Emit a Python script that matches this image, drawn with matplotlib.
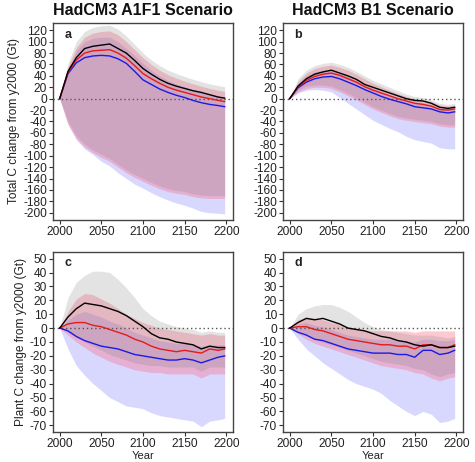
import numpy as np
import matplotlib
matplotlib.use("Agg")
import matplotlib.pyplot as plt

plt.rcParams['font.family'] = ['Liberation Sans', 'DejaVu Sans']
plt.rcParams['axes.unicode_minus'] = False

years = [2000, 2010, 2020, 2030, 2040, 2050, 2060, 2070, 2080, 2090, 2100,
         2110, 2120, 2130, 2140, 2150, 2160, 2170, 2180, 2190, 2198]

# ---- Panel a: Total C, A1F1 ----
a_black = [0, 48, 72, 88, 92, 94, 96, 88, 80, 67, 53, 43, 34, 27, 22, 18, 14, 11, 7, 3, 1]
a_red   = [0, 46, 68, 80, 84, 85, 86, 80, 71, 58, 44, 35, 27, 20, 15, 11, 7, 3, 0, -3, -5]
a_blue  = [0, 44, 63, 72, 75, 76, 75, 70, 62, 48, 33, 25, 17, 11, 6, 2, -3, -7, -10, -12, -14]
a_grey_hi = [0, 62, 100, 118, 125, 128, 129, 122, 110, 95, 80, 68, 58, 50, 44, 39, 34, 30, 26, 23, 21]
a_grey_lo = [0, -40, -65, -80, -90, -98, -105, -115, -125, -133, -140, -147, -153, -158, -161, -163, -167, -169, -170, -170, -170]
a_red_hi  = [0, 56, 90, 108, 115, 118, 119, 112, 100, 86, 72, 60, 50, 42, 36, 31, 26, 22, 18, 15, 13]
a_red_lo  = [0, -45, -70, -85, -95, -103, -110, -120, -130, -138, -145, -152, -158, -163, -166, -168, -172, -174, -175, -175, -175]
a_blue_hi = [0, 50, 84, 100, 106, 108, 108, 100, 88, 76, 62, 50, 40, 32, 26, 21, 16, 12, 8, 5, 3]
a_blue_lo = [0, -45, -72, -88, -98, -110, -118, -130, -140, -150, -157, -165, -172, -178, -183, -187, -192, -198, -200, -201, -202]

# ---- Panel b: Total C, B1 ----
b_black = [0, 22, 35, 43, 47, 50, 45, 40, 34, 25, 20, 15, 10, 5, 0, -3, -4, -8, -15, -17, -15]
b_red   = [0, 20, 32, 39, 43, 45, 41, 35, 29, 21, 15, 10, 5, 0, -4, -8, -10, -13, -19, -20, -18]
b_blue  = [0, 19, 29, 35, 38, 39, 35, 29, 23, 16, 10, 4, -1, -5, -9, -14, -16, -18, -23, -25, -23]
b_grey_hi = [0, 35, 50, 58, 62, 64, 60, 55, 48, 40, 32, 26, 20, 14, 8, 4, 2, -2, -8, -10, -8]
b_grey_lo = [0, 15, 22, 24, 24, 22, 16, 9, 2, -6, -14, -20, -26, -31, -34, -36, -38, -40, -44, -46, -46]
b_red_hi  = [0, 30, 45, 53, 57, 59, 55, 50, 43, 35, 27, 21, 15, 9, 4, 0, -2, -5, -11, -13, -11]
b_red_lo  = [0, 12, 18, 20, 20, 18, 12, 5, -2, -10, -18, -24, -30, -35, -38, -40, -42, -44, -48, -50, -50]
b_blue_hi = [0, 27, 40, 47, 50, 51, 47, 41, 34, 26, 19, 13, 7, 2, -2, -6, -8, -11, -16, -18, -16]
b_blue_lo = [0, 10, 15, 16, 15, 12, 2, -8, -18, -28, -38, -45, -52, -58, -66, -72, -75, -78, -86, -88, -88]

# ---- Panel c: Plant C, A1F1 ----
c_black = [0, 8, 14, 18, 17, 16, 14, 12, 9, 5, 1, -4, -7, -8, -10, -11, -12, -15, -13, -14, -14]
c_red   = [0, 3, 4, 4, 2, 1, -1, -3, -5, -8, -10, -13, -15, -16, -17, -16, -17, -18, -15, -16, -15]
c_blue  = [0, -2, -6, -9, -11, -13, -14, -15, -17, -19, -20, -21, -22, -23, -23, -22, -23, -25, -23, -21, -20]
c_grey_hi = [0, 22, 33, 38, 41, 41, 40, 35, 29, 22, 14, 9, 5, 3, 1, 0, -1, -3, -2, -3, -3]
c_grey_lo = [0, -3, -7, -10, -13, -16, -19, -21, -23, -25, -26, -27, -27, -28, -28, -28, -28, -31, -28, -28, -28]
c_red_hi  = [0, 12, 21, 25, 24, 21, 18, 14, 10, 7, 4, 2, 0, -1, -2, -3, -4, -5, -4, -5, -5]
c_red_lo  = [0, -5, -10, -14, -18, -21, -24, -26, -28, -30, -31, -32, -32, -33, -33, -33, -33, -36, -33, -33, -33]
c_blue_hi = [0, 6, 10, 12, 10, 8, 5, 3, 0, -3, -5, -7, -9, -10, -11, -11, -12, -13, -12, -12, -12]
c_blue_lo = [0, -15, -27, -34, -40, -45, -50, -53, -56, -57, -58, -61, -63, -64, -65, -66, -67, -71, -67, -66, -65]

# ---- Panel d: Plant C, B1 ----
d_black = [0, 4, 7, 6, 7, 5, 3, 0, -1, -2, -4, -6, -7, -9, -10, -12, -13, -12, -14, -14, -13]
d_red   = [0, 1, 1, -1, -2, -4, -6, -8, -9, -10, -11, -12, -12, -13, -13, -15, -12, -12, -14, -14, -12]
d_blue  = [0, -3, -5, -8, -9, -11, -13, -15, -16, -17, -18, -18, -18, -19, -19, -21, -16, -16, -19, -18, -16]
d_grey_hi = [0, 10, 14, 16, 17, 17, 15, 12, 8, 4, 1, -1, -2, -3, -4, -5, -5, -5, -6, -7, -6]
d_grey_lo = [0, -2, -5, -8, -10, -12, -14, -16, -18, -20, -22, -24, -25, -26, -27, -29, -30, -33, -35, -33, -32]
d_red_hi  = [0, 6, 8, 7, 6, 4, 3, 1, 0, -1, -2, -2, -2, -2, -2, -3, -2, -2, -2, -2, -2]
d_red_lo  = [0, -4, -8, -11, -13, -15, -17, -19, -21, -23, -25, -27, -28, -29, -30, -32, -33, -36, -38, -36, -35]
d_blue_hi = [0, 3, 4, 2, 1, -1, -3, -5, -6, -7, -8, -8, -8, -9, -9, -10, -8, -8, -9, -9, -8]
d_blue_lo = [0, -8, -15, -20, -25, -29, -33, -37, -40, -42, -44, -47, -52, -56, -60, -63, -60, -62, -68, -67, -65]

titles = ["HadCM3 A1F1 Scenario", "HadCM3 B1 Scenario"]
ylabels = ["Total C change from y2000 (Gt)", "Plant C change from y2000 (Gt)"]
letters = ["a", "b", "c", "d"]
xticks = [2000, 2050, 2100, 2150, 2200]
yticks_top = list(range(-200, 121, 20))
yticks_bot = list(range(-70, 51, 10))

panels = [
    (a_black, a_red, a_blue, a_grey_hi, a_grey_lo, a_red_hi, a_red_lo, a_blue_hi, a_blue_lo),
    (b_black, b_red, b_blue, b_grey_hi, b_grey_lo, b_red_hi, b_red_lo, b_blue_hi, b_blue_lo),
    (c_black, c_red, c_blue, c_grey_hi, c_grey_lo, c_red_hi, c_red_lo, c_blue_hi, c_blue_lo),
    (d_black, d_red, d_blue, d_grey_hi, d_grey_lo, d_red_hi, d_red_lo, d_blue_hi, d_blue_lo),
]

W, H = 475, 462
fig = plt.figure(figsize=(W / 100, H / 100), dpi=100)

def rect(l, t, r, b):
    return [l / W, (H - b) / H, (r - l) / W, (b - t) / H]

rects = [rect(53, 23, 233, 220), rect(283, 23, 463, 220),
         rect(53, 252, 233, 432), rect(283, 252, 463, 432)]

fs = 8.6
yrs = np.array(years)
for i, (r, p) in enumerate(zip(rects, panels)):
    ax = fig.add_axes(r)
    blk, red, blu, ghi, glo, rhi, rlo, bhi, blo = p
    ax.fill_between(yrs, blo, bhi, color=(0.5, 0.5, 1.0), alpha=0.3, lw=0)
    ax.fill_between(yrs, rlo, rhi, color=(1.0, 0.4, 0.5), alpha=0.35, lw=0)
    ax.fill_between(yrs, glo, ghi, color=(0.5, 0.5, 0.5), alpha=0.22, lw=0)
    ax.axhline(0, color='#555555', lw=1.0, ls=(0, (1, 2)))
    ax.plot(yrs, blu, color='#1a1ae6', lw=1.0)
    ax.plot(yrs, red, color='#e61a1a', lw=1.0)
    ax.plot(yrs, blk, color='#000000', lw=1.0)
    ax.set_xlim(1992, 2208)
    if i < 2:
        ax.set_ylim(-212.8, 132.8)
        ax.set_yticks(yticks_top)
    else:
        ax.set_ylim(-74.8, 54.8)
        ax.set_yticks(yticks_bot)
    ax.set_xticks(xticks)
    ax.tick_params(direction='out', length=3.2, width=0.8, labelsize=fs,
                   colors='#333333', labelcolor='#222222', pad=1.2)
    for s in ax.spines.values():
        s.set_color('#444444')
        s.set_linewidth(1.0)
    ax.text(0.085, 0.94, letters[i], transform=ax.transAxes, fontsize=9,
            fontweight='bold', ha='center', va='center', color='#222222')
    if i < 2:
        ax.set_title(titles[i], fontsize=11.5, fontweight='bold', pad=6, color='#111111')
    if i % 2 == 0:
        ax.set_ylabel(ylabels[i // 2], fontsize=fs, color='#222222', labelpad=2)
    if i >= 2:
        ax.set_xlabel("Year", fontsize=8, color='#222222', labelpad=0.5)

fig.savefig("out.png", dpi=100)
